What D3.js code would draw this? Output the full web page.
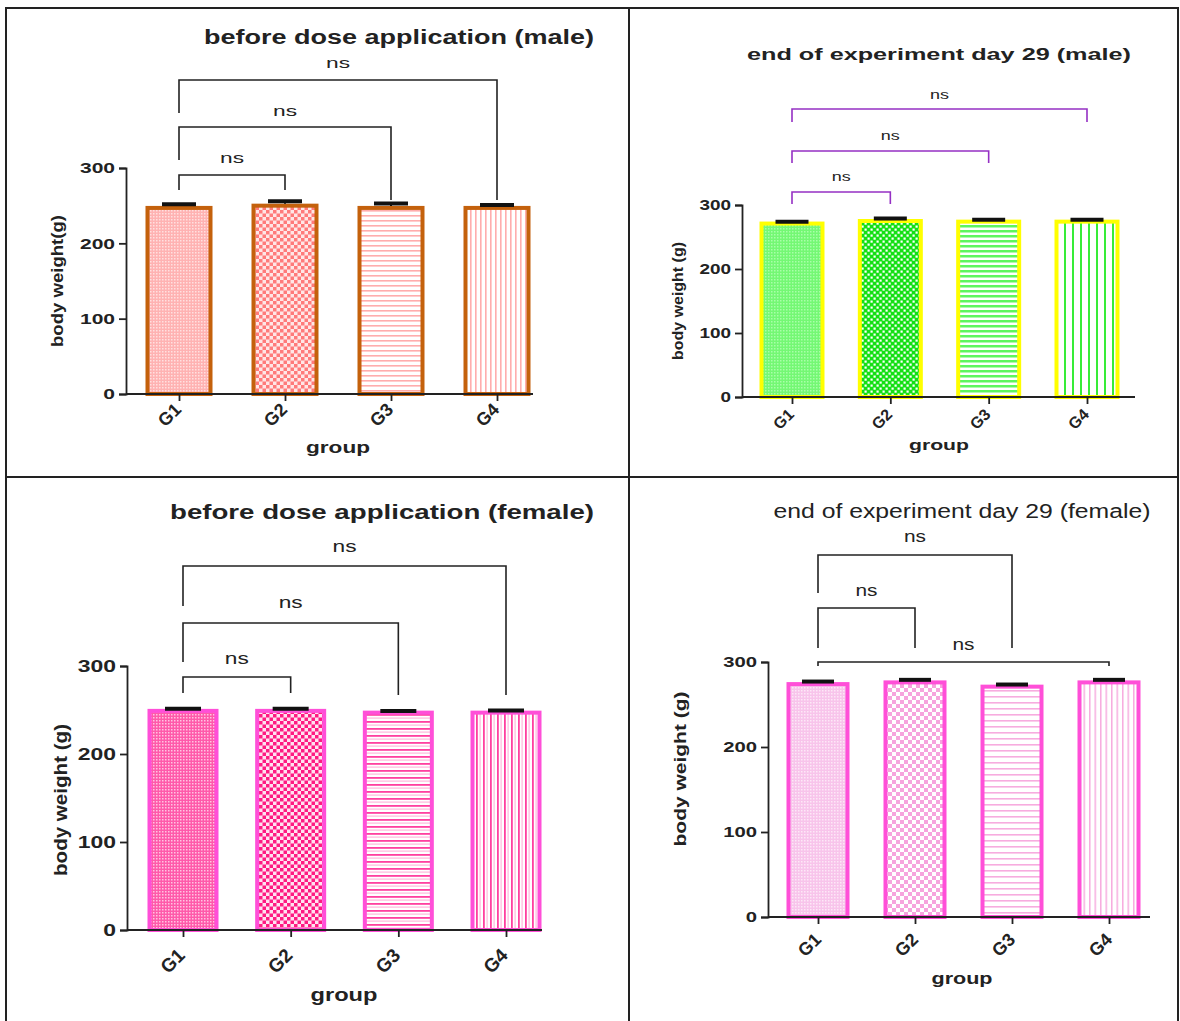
<!DOCTYPE html>
<html>
<head>
<meta charset="utf-8">
<script src="https://cdn.jsdelivr.net/npm/d3@7"></script>
<style>
  html, body { margin: 0; padding: 0; background: #fff; }
  svg { display: block; }
  text { font-family: "Liberation Sans", Arial, Helvetica, sans-serif; fill: #222; }
</style>
</head>
<body>
<svg id="chart" width="1180" height="1021"></svg>
<script>
// ---------------- data ----------------
const groups = ["G1", "G2", "G3", "G4"];
const yTicks = [0, 100, 200, 300];

const maleBeforeMean = [247, 250, 247, 247];
const maleBeforeSem  = [5, 6, 6, 4];
const maleEndMean    = [271, 275, 274, 274];
const maleEndSem     = [3, 4, 3, 3];
const femaleBeforeMean = [249, 249, 247, 247];
const femaleBeforeSem  = [2.5, 2.5, 2, 2.5];
const femaleEndMean    = [274, 276, 271, 276];
const femaleEndSem     = [3, 3, 2.5, 3];

const titles = [
  "before dose application (male)",
  "end of experiment day 29 (male)",
  "before dose application (female)",
  "end of experiment day 29 (female)"
];
const yLabels = ["body weight(g)", "body weight (g)", "body weight (g)", "body weight (g)"];
const xLabel = "group";
const comparisons = [["G1", "G2"], ["G1", "G3"], ["G1", "G4"]];
const compLabels = ["ns", "ns", "ns"];

// ---------------- layout ----------------
const svg = d3.select("#chart");
const defs = svg.append("defs");

function pattern(id, w, h, bg, items) {
  const p = defs.append("pattern").attr("id", id).attr("patternUnits", "userSpaceOnUse")
    .attr("width", w).attr("height", h);
  p.append("rect").attr("width", w).attr("height", h).attr("fill", bg);
  items.forEach(it => p.append("rect").attr("x", it[0]).attr("y", it[1])
    .attr("width", it[2]).attr("height", it[3]).attr("fill", it[4]));
  return `url(#${id})`;
}

const fills = [
  [
    pattern("p1g1", 3, 3, "#ffb2b2", [[0, 0, 1.5, 1.5, "#ffe0e0"]]),
    pattern("p1g2", 7, 7, "#ffe6e6", [[0, 0, 3.5, 3.5, "#ff7a7a"], [3.5, 3.5, 3.5, 3.5, "#ff7a7a"]]),
    pattern("p1g3", 5, 5, "#ffffff", [[0, 0, 5, 1.6, "#ffadad"]]),
    pattern("p1g4", 5, 5, "#ffffff", [[0, 0, 1.6, 5, "#ffadad"]])
  ],
  [
    pattern("p2g1", 3, 3, "#74f874", [[0, 0, 1.5, 1.5, "#a8ffa8"]]),
    pattern("p2g2", 6, 6, "#14e014", [[0.5, 0.5, 2.2, 2.2, "#ffffff"], [3.5, 3.5, 2.2, 2.2, "#ffffff"]]),
    pattern("p2g3", 5, 5, "#ffffff", [[0, 0, 5, 2.5, "#5ef55e"]]),
    pattern("p2g4", 8, 8, "#ffffff", [[0, 0, 2, 8, "#38ec38"]])
  ],
  [
    pattern("p3g1", 3, 3, "#ff5aaa", [[0, 0, 1.5, 1.5, "#ffc4e2"]]),
    pattern("p3g2", 7, 7, "#ffe2f0", [[0, 0, 3.5, 3.5, "#ff1a82"], [3.5, 3.5, 3.5, 3.5, "#ff1a82"]]),
    pattern("p3g3", 7, 7, "#ffffff", [[0, 0, 7, 1.8, "#ff40a0"], [0, 3.5, 7, 1.2, "#ffb8dc"]]),
    pattern("p3g4", 7, 7, "#ffffff", [[0, 0, 1.8, 7, "#ff40a0"], [3.5, 0, 1.2, 7, "#ffb8dc"]])
  ],
  [
    pattern("p4g1", 3, 3, "#f8c4eb", [[0, 0, 1.5, 1.5, "#fde8f7"]]),
    pattern("p4g2", 8, 8, "#ffffff", [[0, 0, 4, 4, "#f6a4dd"], [4, 4, 4, 4, "#f6a4dd"]]),
    pattern("p4g3", 6, 6, "#ffffff", [[0, 0, 6, 1.6, "#f7acdf"]]),
    pattern("p4g4", 5.5, 5.5, "#ffffff", [[0, 0, 1.5, 5.5, "#f7acdf"]])
  ]
];

const panels = [
  { mean: maleBeforeMean, sem: maleBeforeSem,
    x0: 126, x1: 533, y0: 394, yTop: 168, first: 179, last: 497, barW: 63, capW: 34,
    stroke: "#c4610c", bracket: "#222",
    title: { x: 399, y: 37, size: 20, len: 390, weight: "bold" },
    yLab: { x: 57, y: 281, size: 16, len: 132 },
    xLab: { x: 338, y: 447, size: 17, len: 64 },
    tickSize: 15, tickStretch: 1.4,
    gLab: { size: 18, dx: -10, dy: 21 },
    ns: { size: 15, len: 24 },
    br: [ { y: 175, ly: 190, ry: 190, ty: 157 },
          { y: 127, ly: 160, ry: 200, ty: 110 },
          { y: 80,  ly: 113, ry: 200, ty: 62 } ] },
  { mean: maleEndMean, sem: maleEndSem,
    x0: 742, x1: 1135, y0: 397, yTop: 205, first: 792, last: 1087, barW: 61, capW: 33,
    stroke: "#ffff00", bracket: "#9530c4",
    title: { x: 939, y: 54, size: 17, len: 384, weight: "bold" },
    yLab: { x: 678, y: 301, size: 14, len: 118 },
    xLab: { x: 939, y: 444, size: 15, len: 60 },
    tickSize: 14, tickStretch: 1.35,
    gLab: { size: 16, dx: -9, dy: 22 },
    ns: { size: 12, len: 19 },
    br: [ { y: 192, ly: 204, ry: 204, ty: 177 },
          { y: 151, ly: 163, ry: 163, ty: 136 },
          { y: 109, ly: 122, ry: 122, ty: 95 } ] },
  { mean: femaleBeforeMean, sem: femaleBeforeSem,
    x0: 127, x1: 542, y0: 930, yTop: 666, first: 183, last: 506, barW: 67, capW: 36,
    stroke: "#ff4fd8", bracket: "#222",
    title: { x: 382, y: 511, size: 21, len: 424, weight: "bold" },
    yLab: { x: 60, y: 800, size: 19, len: 152 },
    xLab: { x: 344, y: 995, size: 18, len: 67 },
    tickSize: 17, tickStretch: 1.35,
    gLab: { size: 19, dx: -11, dy: 31 },
    ns: { size: 17, len: 24 },
    br: [ { y: 677, ly: 693, ry: 693, ty: 658 },
          { y: 623, ly: 662, ry: 695, ty: 602 },
          { y: 566, ly: 606, ry: 695, ty: 546 } ] },
  { mean: femaleEndMean, sem: femaleEndSem,
    x0: 768, x1: 1150, y0: 917, yTop: 662, first: 818, last: 1109, barW: 59, capW: 32,
    stroke: "#ff4fd8", bracket: "#222",
    title: { x: 962, y: 511, size: 20, len: 377, weight: "normal" },
    yLab: { x: 680, y: 769, size: 17, len: 155 },
    xLab: { x: 962, y: 978, size: 17, len: 61 },
    tickSize: 15, tickStretch: 1.35,
    gLab: { size: 18, dx: -9, dy: 28 },
    ns: { size: 16, len: 22 },
    br: [ { y: 608, ly: 648, ry: 648, ty: 590 },
          { y: 555, ly: 593, ry: 648, ty: 536 },
          { y: 662, ly: 666, ry: 666, ty: 644 } ] }
];

function stretch(sel, factor) {
  sel.each(function () {
    const w = this.getComputedTextLength();
    d3.select(this).attr("textLength", w * factor).attr("lengthAdjust", "spacingAndGlyphs");
  });
}

// ---------------- frame ----------------
const frame = svg.append("g").attr("stroke", "#222").attr("stroke-width", 2).attr("fill", "none");
frame.append("rect").attr("x", 6).attr("y", 8).attr("width", 1172).attr("height", 1030);
frame.append("line").attr("x1", 629).attr("x2", 629).attr("y1", 8).attr("y2", 1021);
frame.append("line").attr("x1", 6).attr("x2", 1178).attr("y1", 477).attr("y2", 477);

// ---------------- panels ----------------
panels.forEach((P, pi) => {
  const g = svg.append("g");
  const y = d3.scaleLinear().domain([0, 300]).range([P.y0, P.yTop]);
  const x = d3.scalePoint().domain(groups).range([P.first, P.last]);

  // bars
  g.selectAll("rect.bar").data(groups).join("rect")
    .attr("class", "bar")
    .attr("x", d => x(d) - P.barW / 2)
    .attr("width", P.barW)
    .attr("y", (d, i) => y(P.mean[i]))
    .attr("height", (d, i) => y(0) - y(P.mean[i]))
    .attr("fill", (d, i) => fills[pi][i])
    .attr("stroke", P.stroke)
    .attr("stroke-width", 4);

  // error bars
  g.selectAll("line.stem").data(groups).join("line")
    .attr("x1", d => x(d)).attr("x2", d => x(d))
    .attr("y1", (d, i) => y(P.mean[i]) - 2)
    .attr("y2", (d, i) => y(P.mean[i] + P.sem[i]))
    .attr("stroke", "#111").attr("stroke-width", 2);
  g.selectAll("line.cap").data(groups).join("line")
    .attr("x1", d => x(d) - P.capW / 2).attr("x2", d => x(d) + P.capW / 2)
    .attr("y1", (d, i) => y(P.mean[i] + P.sem[i]))
    .attr("y2", (d, i) => y(P.mean[i] + P.sem[i]))
    .attr("stroke", "#111").attr("stroke-width", 4);

  // y axis
  const ya = g.append("g").attr("transform", `translate(${P.x0},0)`)
    .call(d3.axisLeft(y).tickValues(yTicks).tickSize(7).tickPadding(4));
  ya.select(".domain").attr("stroke", "#222").attr("stroke-width", 1.8);
  ya.selectAll(".tick line").attr("stroke", "#222").attr("stroke-width", 1.8);
  ya.selectAll(".tick text").attr("font-size", P.tickSize).attr("font-weight", "bold")
    .attr("fill", "#222").attr("font-family", "Liberation Sans, Arial, sans-serif")
    .call(stretch, P.tickStretch);

  // x axis
  g.append("line").attr("x1", P.x0).attr("x2", P.x1).attr("y1", P.y0).attr("y2", P.y0)
    .attr("stroke", "#222").attr("stroke-width", 1.8);
  const xa = g.append("g").attr("transform", `translate(0,${P.y0})`)
    .call(d3.axisBottom(x).tickSize(7).tickPadding(3));
  xa.select(".domain").remove();
  xa.selectAll(".tick line").attr("stroke", "#222").attr("stroke-width", 1.8);
  xa.selectAll(".tick text")
    .attr("font-size", P.gLab.size).attr("font-weight", "bold").attr("fill", "#222")
    .attr("font-family", "Liberation Sans, Arial, sans-serif")
    .attr("text-anchor", "middle")
    .attr("dominant-baseline", "central")
    .attr("dy", null)
    .attr("y", 0).attr("x", 0)
    .attr("transform", `translate(${P.gLab.dx},${P.gLab.dy}) rotate(-45)`);

  // axis labels
  g.append("text").text(xLabel)
    .attr("x", P.xLab.x).attr("y", P.xLab.y).attr("text-anchor", "middle")
    .attr("dominant-baseline", "central")
    .attr("font-size", P.xLab.size).attr("font-weight", "bold")
    .attr("textLength", P.xLab.len).attr("lengthAdjust", "spacingAndGlyphs");
  g.append("text").text(yLabels[pi])
    .attr("transform", `translate(${P.yLab.x},${P.yLab.y}) rotate(-90)`)
    .attr("text-anchor", "middle").attr("dominant-baseline", "central")
    .attr("font-size", P.yLab.size).attr("font-weight", "bold")
    .attr("textLength", P.yLab.len).attr("lengthAdjust", "spacingAndGlyphs");

  // title
  g.append("text").text(titles[pi])
    .attr("x", P.title.x).attr("y", P.title.y).attr("text-anchor", "middle")
    .attr("dominant-baseline", "central")
    .attr("font-size", P.title.size).attr("font-weight", P.title.weight)
    .attr("fill", "#222")
    .attr("textLength", P.title.len).attr("lengthAdjust", "spacingAndGlyphs");

  // significance brackets
  comparisons.forEach((c, ci) => {
    const b = P.br[ci];
    const xa1 = x(c[0]), xb1 = x(c[1]);
    g.append("path")
      .attr("d", `M${xa1},${b.ly}V${b.y}H${xb1}V${b.ry}`)
      .attr("fill", "none").attr("stroke", P.bracket).attr("stroke-width", 1.6);
    g.append("text").text(compLabels[ci])
      .attr("x", (xa1 + xb1) / 2).attr("y", b.ty)
      .attr("text-anchor", "middle").attr("dominant-baseline", "central")
      .attr("font-size", P.ns.size).attr("fill", "#333")
      .attr("textLength", P.ns.len).attr("lengthAdjust", "spacingAndGlyphs");
  });
});
</script>
</body>
</html>
